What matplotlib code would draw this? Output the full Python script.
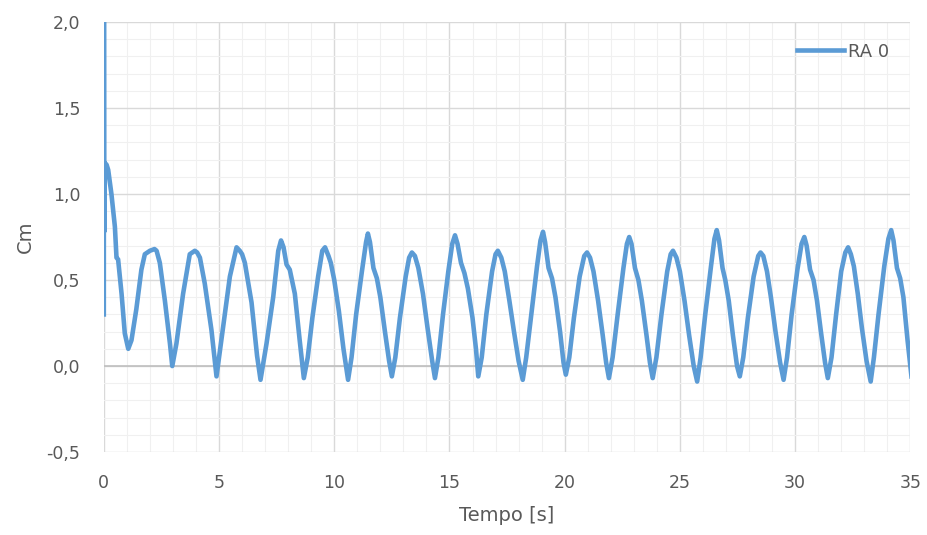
import matplotlib.pyplot as plt
from matplotlib.ticker import MultipleLocator, FuncFormatter

# Tempo [s] e Cm (série "RA 0")
tempo = [
    0.0, 0.005, 0.015, 0.05, 0.12, 0.19, 0.33, 0.48, 0.55, 0.62, 0.77, 0.91, 1.06,
    1.2, 1.41, 1.63, 1.78, 2.0, 2.2, 2.29, 2.43, 2.65, 2.87, 2.97,
    3.15, 3.44, 3.73, 3.95, 4.05, 4.17, 4.38, 4.67, 4.89,
    5.18, 5.47, 5.76, 5.9, 6.0, 6.12, 6.41, 6.65, 6.8,
    7.06, 7.35, 7.57, 7.69, 7.8, 7.93, 8.07, 8.29, 8.5, 8.68,
    8.85, 9.05, 9.3, 9.48, 9.6, 9.75, 9.85, 10.0, 10.2, 10.4, 10.6,
    10.75, 10.95, 11.2, 11.38, 11.46, 11.55, 11.7, 11.85, 12.0, 12.2, 12.38, 12.5,
    12.65, 12.85, 13.1, 13.25, 13.37, 13.5, 13.65, 13.85, 14.05, 14.25, 14.37,
    14.52, 14.72, 14.95, 15.12, 15.24, 15.35, 15.5, 15.65, 15.8, 16.0, 16.15, 16.25,
    16.4, 16.6, 16.85, 17.0, 17.1, 17.25, 17.4, 17.6, 17.8, 18.0, 18.18,
    18.33, 18.55, 18.8, 18.95, 19.06, 19.15, 19.3, 19.45, 19.6, 19.8, 19.95, 20.05,
    20.2, 20.4, 20.65, 20.85, 20.97, 21.1, 21.25, 21.45, 21.65, 21.8, 21.92,
    22.08, 22.3, 22.55, 22.7, 22.8, 22.9, 23.05, 23.2, 23.35, 23.55, 23.7, 23.82,
    23.98, 24.2, 24.45, 24.6, 24.7, 24.85, 25.0, 25.2, 25.4, 25.6, 25.75,
    25.9, 26.1, 26.35, 26.5, 26.6, 26.7, 26.85, 26.97, 27.12, 27.3, 27.48, 27.6,
    27.75, 27.95, 28.2, 28.4, 28.5, 28.62, 28.78, 28.95, 29.15, 29.35, 29.5,
    29.65, 29.85, 30.1, 30.28, 30.4, 30.5, 30.65, 30.8, 30.95, 31.12, 31.3, 31.42,
    31.58, 31.78, 32.0, 32.18, 32.3, 32.42, 32.55, 32.72, 32.9, 33.1, 33.28,
    33.42, 33.62, 33.87, 34.05, 34.17, 34.27, 34.42, 34.56, 34.7, 34.88, 35.05,
]
cm = [
    0.3, 2.0, 0.78, 1.18, 1.17, 1.14, 1.0, 0.81, 0.63, 0.62, 0.42, 0.19, 0.10,
    0.15, 0.33, 0.56, 0.65, 0.67, 0.68, 0.67, 0.6, 0.38, 0.13, 0.0,
    0.13, 0.42, 0.65, 0.67, 0.66, 0.63, 0.48, 0.21, -0.06,
    0.23, 0.52, 0.69, 0.67, 0.65, 0.6, 0.37, 0.06, -0.08,
    0.13, 0.4, 0.67, 0.73, 0.69, 0.59, 0.56, 0.42, 0.15, -0.07,
    0.05, 0.28, 0.52, 0.67, 0.69, 0.64, 0.6, 0.5, 0.32, 0.1, -0.08,
    0.05, 0.3, 0.55, 0.72, 0.77, 0.72, 0.57, 0.51, 0.4, 0.2, 0.03, -0.06,
    0.05, 0.28, 0.52, 0.63, 0.66, 0.64, 0.57, 0.42, 0.22, 0.03, -0.07,
    0.05, 0.3, 0.55, 0.71, 0.76, 0.71, 0.6, 0.54, 0.45, 0.28, 0.1, -0.06,
    0.05, 0.3, 0.55, 0.65, 0.67, 0.63, 0.55, 0.38, 0.2, 0.03, -0.08,
    0.05, 0.3, 0.58, 0.73, 0.78, 0.72, 0.57, 0.51, 0.4, 0.2, 0.02, -0.05,
    0.05, 0.28, 0.52, 0.64, 0.66, 0.63, 0.55, 0.38, 0.18, 0.02, -0.07,
    0.05, 0.3, 0.57, 0.71, 0.75, 0.71, 0.57, 0.5, 0.38, 0.18, 0.02, -0.07,
    0.05, 0.3, 0.55, 0.65, 0.67, 0.63, 0.55, 0.38, 0.18, 0.0, -0.09,
    0.05, 0.3, 0.58, 0.74, 0.79, 0.73, 0.57, 0.5, 0.38, 0.18, 0.0, -0.06,
    0.05, 0.28, 0.52, 0.64, 0.66, 0.64, 0.55, 0.4, 0.2, 0.02, -0.08,
    0.05, 0.3, 0.56, 0.71, 0.75, 0.7, 0.56, 0.5, 0.38, 0.2, 0.02, -0.07,
    0.05, 0.3, 0.55, 0.66, 0.69, 0.65, 0.58, 0.42, 0.22, 0.03, -0.09,
    0.05, 0.3, 0.58, 0.74, 0.79, 0.73, 0.57, 0.51, 0.4, 0.15, -0.06,
]

fig = plt.figure(figsize=(9.27, 5.35), dpi=100)
ax = fig.add_axes([0.112, 0.155, 0.870, 0.804])

# grelha estilo Excel
ax.xaxis.set_major_locator(MultipleLocator(5))
ax.xaxis.set_minor_locator(MultipleLocator(1))
ax.yaxis.set_major_locator(MultipleLocator(0.5))
ax.yaxis.set_minor_locator(MultipleLocator(0.1))
ax.grid(which='minor', color='#f0f0f0', linewidth=0.8)
ax.grid(which='major', color='#d9d9d9', linewidth=1.0)
ax.axhline(0, color='#bfbfbf', linewidth=1.2, zorder=1.5)
ax.set_axisbelow(True)

ax.plot(tempo, cm, color='#5b9bd5', linewidth=3.3, solid_joinstyle='round',
        label='RA 0', zorder=3)
ax.plot([0, 0], [0.3, 2.0], color='#5b9bd5', linewidth=1.5, zorder=3)

ax.set_xlim(0, 35)
ax.set_ylim(-0.5, 2.0)
for s in ax.spines.values():
    s.set_visible(False)
ax.tick_params(which='both', length=0, labelsize=12.5, colors='#595959')
ax.tick_params(axis='x', pad=16)
ax.tick_params(axis='y', pad=17)
ax.yaxis.set_major_formatter(FuncFormatter(lambda v, p: f"{v:.1f}".replace('.', ',')))

ax.set_xlabel('Tempo [s]', fontsize=14, color='#595959', labelpad=10)
ax.set_ylabel('Cm', fontsize=14, color='#595959', labelpad=8)

leg = ax.legend(loc='upper right', frameon=False, fontsize=13, handlelength=2.6,
                handletextpad=0.25, borderaxespad=0.75)
for t in leg.get_texts():
    t.set_color('#595959')

fig.savefig('out.png', dpi=100)
